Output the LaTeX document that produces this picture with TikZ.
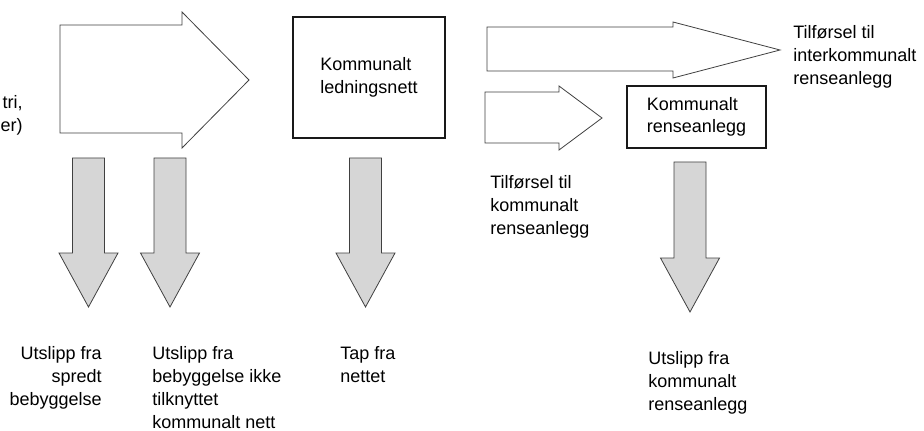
\documentclass[tikz,border=0pt]{standalone}
\usepackage{fontspec}
\setmainfont{Liberation Sans}
\usepackage{tikz}
\def\shaft{16}
\def\head{29.5}
% gray down arrow: centre x, top, start of head, tip
\newcommand{\lossarrow}[4]{%
  \draw[loss] (#1-\shaft,#2) -- (#1+\shaft,#2) -- (#1+\shaft,#3) -- (#1+\head,#3)
    -- (#1,#4) -- (#1-\head,#3) -- (#1-\shaft,#3) -- cycle;}
\tikzset{
  flow/.style={draw=black!75, line width=0.6pt, fill=white, line join=miter},
  loss/.style={draw=black!75, line width=0.6pt, fill=black!16},
  plant/.style={draw=black!90, line width=2.2pt, align=left, inner sep=0pt,
    font=\fontsize{13.5}{17}\selectfont},
  lbl/.style={align=left, inner sep=0pt, font=\fontsize{13.5}{17.3}\selectfont}}

\begin{document}
\begin{tikzpicture}[x=0.75pt, y=-0.75pt]
\useasboundingbox (0,0) rectangle (924,431);
%\draw[step=50, black!20] (0,0) grid (924,431);

% white flow arrows
\draw[flow] (60,25) -- (182,25) -- (182,12) -- (249,80) -- (182,148) -- (182,133) -- (60,133) -- cycle;
\draw[flow] (487,27) -- (673,27) -- (673,22) -- (780,50) -- (673,78) -- (673,71) -- (487,71) -- cycle;
\draw[flow] (485,92) -- (559,92) -- (559,86) -- (602,118) -- (559,150) -- (559,143) -- (485,143) -- cycle;

% boxes
\node[plant, minimum width=114pt, minimum height=90.75pt] (ledning) at (369,77.5) {Kommunalt\\ledningsnett};
\node[plant, minimum width=104.25pt, minimum height=46.5pt] (rense) at (696.5,117) {Kommunalt\\renseanlegg};

% losses
\lossarrow{88.5}{158}{253}{307}
\lossarrow{170}{158}{253}{307}
\lossarrow{365.5}{158}{253}{307}
\lossarrow{690}{162}{258}{312}

% labels
\node[lbl, align=right, anchor=north east] (kilde) at (23,95) {tri,\\er)};
\node[lbl, align=right, anchor=north east] (spredt) at (102,346) {Utslipp fra\\spredt\\bebyggelse};
\node[lbl, anchor=north west] (ikkenett) at (152,346) {Utslipp fra\\bebyggelse ikke\\tilknyttet\\kommunalt nett};
\node[lbl, anchor=north west] (tap) at (340,346) {Tap fra\\nettet};
\node[lbl, anchor=north west] (tilkomm) at (490,175) {Tilførsel til\\kommunalt\\renseanlegg};
\node[lbl, anchor=north west] (utrense) at (648,351) {Utslipp fra\\kommunalt\\renseanlegg};
\node[lbl, anchor=north west] (tilinter) at (793,25) {Tilførsel til\\interkommunalt\\renseanlegg};
\end{tikzpicture}
\end{document}
